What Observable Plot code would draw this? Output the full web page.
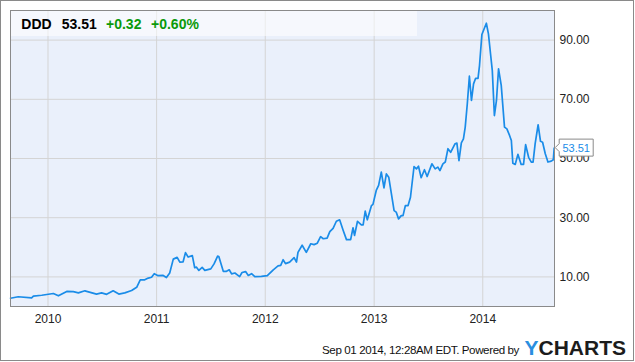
<!DOCTYPE html>
<html><head><meta charset="utf-8">
<script src="https://cdn.jsdelivr.net/npm/d3@7"></script>
<script src="https://cdn.jsdelivr.net/npm/@observablehq/plot@0.6"></script>
<style>
body{margin:0;background:#fff;}
#wrap{position:relative;width:635px;height:362px;font-family:"Liberation Sans",Arial,sans-serif;overflow:hidden;background:#fff;}
#wrap svg{position:absolute;left:0;top:0;}
#border{position:absolute;left:0;top:0;width:634px;height:361px;border:1px solid #8a8a8a;box-sizing:border-box;pointer-events:none;}
#hdrbox{position:absolute;left:11px;top:11px;width:406px;height:25px;background:rgba(255,255,255,0.55);}
.h{position:absolute;top:16.5px;line-height:14px;font-size:14px;font-weight:bold;white-space:nowrap;}
#foot{position:absolute;left:322px;top:344px;line-height:12px;font-size:11.6px;letter-spacing:-0.4px;color:#111;white-space:nowrap;}
#logo{position:absolute;left:524.5px;top:337px;line-height:21px;font-size:21px;font-weight:bold;white-space:nowrap;color:#1c1c1c;}
#logo span{color:#2a8fe0;}
</style>
</head><body>
<div id="wrap"></div>
<script>
// ---- data ----
const dates = ["2009-08-28","2009-09-23","2009-11-07","2009-11-13","2009-12-11","2010-01-19","2010-02-05","2010-03-05","2010-03-27","2010-04-13","2010-05-05","2010-06-13","2010-06-30","2010-07-17","2010-08-08","2010-08-27","2010-09-16","2010-10-09","2010-10-26","2010-11-07","2010-11-22","2010-12-04","2010-12-15","2010-12-24","2011-01-06","2011-01-23","2011-02-03","2011-02-14","2011-02-26","2011-03-11","2011-03-20","2011-03-31","2011-04-08","2011-04-17","2011-05-01","2011-05-09","2011-05-15","2011-05-23","2011-06-03","2011-06-12","2011-07-02","2011-07-13","2011-07-25","2011-07-29","2011-08-13","2011-08-24","2011-09-02","2011-09-10","2011-09-21","2011-10-07","2011-10-15","2011-10-27","2011-11-05","2011-11-16","2011-11-27","2011-12-19","2012-01-08","2012-01-28","2012-02-13","2012-02-22","2012-03-01","2012-03-09","2012-03-23","2012-04-07","2012-04-15","2012-04-20","2012-05-04","2012-05-18","2012-06-02","2012-06-13","2012-06-24","2012-07-05","2012-07-14","2012-07-27","2012-08-05","2012-08-16","2012-08-27","2012-09-07","2012-09-19","2012-09-30","2012-10-14","2012-10-22","2012-10-27","2012-11-06","2012-11-19","2012-11-25","2012-12-02","2012-12-09","2012-12-23","2012-12-28","2013-01-08","2013-01-16","2013-01-25","2013-02-03","2013-02-11","2013-02-19","2013-03-09","2013-03-16","2013-03-24","2013-04-02","2013-04-08","2013-04-16","2013-04-25","2013-05-03","2013-05-15","2013-05-23","2013-05-30","2013-06-08","2013-06-19","2013-06-28","2013-07-14","2013-07-25","2013-08-03","2013-08-10","2013-08-20","2013-08-28","2013-09-06","2013-09-15","2013-09-30","2013-10-06","2013-10-13","2013-10-21","2013-10-28","2013-11-03","2013-11-10","2013-11-17","2013-11-24","2013-12-01","2013-12-08","2013-12-16","2013-12-21","2013-12-29","2014-01-13","2014-01-20","2014-01-27","2014-02-02","2014-02-09","2014-02-16","2014-02-23","2014-03-04","2014-03-15","2014-03-23","2014-04-01","2014-04-07","2014-04-12","2014-04-20","2014-04-29","2014-05-10","2014-05-18","2014-05-25","2014-06-04","2014-06-13","2014-06-19","2014-06-26","2014-07-06","2014-07-14","2014-07-21","2014-07-30","2014-08-08","2014-08-19","2014-08-26","2014-08-29"];
const prices = [2.8,3.3,2.9,3.5,3.8,4.4,3.6,5.1,5.0,4.6,5.3,4.2,4.6,4.1,5.3,4.2,4.6,5.4,6.5,9.0,9.0,9.6,9.9,11.1,10.4,10.5,9.8,11.3,16.0,16.6,15.0,15.1,18.2,16.7,17.2,13.1,13.3,12.2,13.2,12.2,12.7,14.4,17.0,16.9,11.9,11.9,12.4,11.0,11.3,10.1,11.5,11.8,10.5,11.1,10.1,10.2,10.4,12.4,13.7,13.9,15.8,14.5,15.0,16.5,15.0,18.3,20.7,18.3,21.2,20.9,21.4,23.6,22.9,23.1,25.3,26.4,28.8,29.3,25.7,22.6,22.6,26.6,24.0,28.8,27.6,27.6,32.2,29.3,34.1,34.5,39.2,40.9,45.4,40.1,44.8,43.7,32.4,31.9,29.6,30.7,30.7,34.1,34.1,36.9,47.3,46.5,47.4,43.5,46.2,43.9,48.2,46.5,47.1,45.9,48.2,48.8,53.3,52.1,55.0,55.2,49.3,55.3,56.6,60.6,68.5,77.8,69.6,75.2,77.1,77.1,81.4,91.9,95.7,92.1,85.4,79.7,64.5,69.6,80.3,74.7,60.6,60.0,57.8,56.1,48.4,48.0,51.4,48.0,48.0,54.7,50.4,48.8,48.8,55.0,61.4,55.8,55.5,51.6,48.8,49.1,49.6,53.51];
const xDomain = ["2009-08-28","2014-08-30"];
const xTickLabels = ["2010","2011","2012","2013","2014"];
const yDomain = [0, 100];
const yTicks = [10, 30, 50, 70, 90];
const header = {ticker: "DDD", last: "53.51", change: "+0.32", pct: "+0.60%"};
const footerText = "Sep 01 2014, 12:28AM EDT. Powered by";

// ---- build ----
const data = dates.map((d, i) => ({date: new Date(d), price: prices[i]}));
const last = data[data.length - 1];
const lineColor = "#1a8ce8";

function callout(index, scales) {
  const x = scales.x(last.date), y = scales.y(last.price);
  const g = d3.create("svg:g");
  g.append("path")
    .attr("d", `M${x+1.5},${y} L${x+5.5},${y-4} L${x+5.5},${y-8.5} L${x+39.5},${y-8.5} L${x+39.5},${y+8.5} L${x+5.5},${y+8.5} L${x+5.5},${y+4} Z`)
    .attr("fill", "#fff").attr("stroke", "#8a8a8a");
  g.append("text").attr("x", x + 22.5).attr("y", y).attr("dy", "0.36em")
    .attr("text-anchor", "middle").attr("fill", lineColor)
    .attr("font-size", 11).text(last.price.toFixed(2));
  return g.node();
}

const chart = Plot.plot({
  width: 635, height: 362,
  marginLeft: 10, marginRight: 81, marginTop: 10, marginBottom: 56,
  style: {fontFamily: '"Liberation Sans", Arial, sans-serif', fontSize: "12px", color: "#222", background: "transparent", overflow: "visible"},
  x: {type: "utc", domain: xDomain.map(d => new Date(d))},
  y: {domain: yDomain},
  marks: [
    Plot.frame({fill: "#eaf0fb", stroke: null}),
    Plot.gridY({ticks: yTicks, stroke: "#d4d4d4", strokeOpacity: 1}),
    Plot.gridX({ticks: xTickLabels.map(y => new Date(y + "-01-01")), stroke: "#d4d4d4", strokeOpacity: 1}),
    Plot.line(data, {x: "date", y: "price", stroke: lineColor, strokeWidth: 1.7}),
    Plot.frame({stroke: "#8a8a8a"}),
    Plot.axisX({ticks: xTickLabels.map(y => new Date(y + "-01-01")), tickFormat: d => d3.utcFormat("%Y")(d), tickSize: 0, tickPadding: 8, label: null, fill: "#222"}),
    Plot.axisY({anchor: "right", ticks: yTicks, tickFormat: d => d.toFixed(2), tickSize: 0, tickPadding: 5, label: null, fill: "#222"}),
    callout
  ]
});

const wrap = document.getElementById("wrap");
wrap.appendChild(chart);
const hb = document.createElement("div"); hb.id = "hdrbox"; wrap.appendChild(hb);
const parts = [[header.ticker, 21.3, "#000"], [header.last, 61.7, "#000"], [header.change, 106, "#0a9a0a"], [header.pct, 151, "#0a9a0a"]];
for (const [t, x, c] of parts) {
  const s = document.createElement("div"); s.className = "h"; s.style.left = x + "px"; s.style.color = c; s.textContent = t; wrap.appendChild(s);
}
const f = document.createElement("div"); f.id = "foot"; f.textContent = footerText; wrap.appendChild(f);
const l = document.createElement("div"); l.id = "logo"; l.innerHTML = "<span>Y</span>CHARTS"; wrap.appendChild(l);
const b = document.createElement("div"); b.id = "border"; wrap.appendChild(b);
</script>
</body></html>
